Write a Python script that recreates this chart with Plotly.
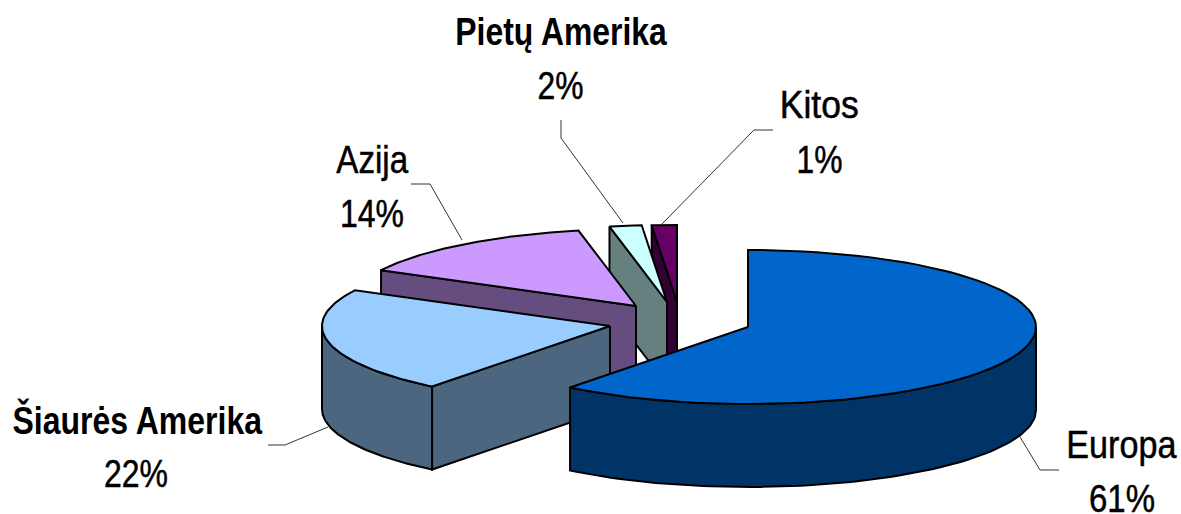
import json
import numpy as np
import plotly.graph_objects as go

categories = ["Europa", "Šiaurės Amerika", "Azija", "Pietų Amerika", "Kitos"]
values = [60.6, 22.1, 14.1, 1.8, 1.4]
percent_labels = ["61%", "22%", "14%", "2%", "1%"]
top_colors = ["#0066CC", "#99CCFF", "#CC99FF", "#CCFFFF", "#660066"]
side_colors = ["#003366", "#4D6680", "#664D80", "#668080", "#330033"]

# pie layout: apex of each exploded slice on the page, ellipse radii and extrusion depth
apex_x = [748, 610, 636, 667, 677]
apex_y = [327, 326, 306, 302, 302]
RX, RY, DEPTH = 288, 77, 83

name_pos = [(1121.5, 445), (137, 420), (372, 160), (561, 32), (818.5, 105)]
pct_pos = [(1122, 499), (136, 474), (372, 214), (560, 86), (819, 160)]
bold_names = [False, True, False, True, False]
name_widths = [111, 250, 72, 212, 79]
pct_widths = [66, 64, 64, 46, 46]
leader_x = [[1020, 1040, 1059], [328, 285, 268], [462, 430, 411], [623, 561, 561], [662, 754, 773]]
leader_y = [[437, 470, 470], [427, 445, 445], [240, 184, 184], [223, 138, 120], [224, 130, 130]]

FONT = "Liberation Sans, Arial, sans-serif"

fig = go.Figure()


def poly(xs, ys, fill):
    fig.add_trace(go.Scatter(
        x=list(xs), y=list(ys), mode="lines", fill="toself", fillcolor=fill,
        line=dict(color="#000000", width=2), hoverinfo="skip", showlegend=False))


def rim(cx, cy, a0, a1, n=80):
    t = np.radians(np.linspace(a0, a1, n))
    return cx + RX * np.sin(t), cy - RY * np.cos(t)


# angular extent of every slice, clockwise from 12 o'clock
ends = np.cumsum(values) / np.sum(values) * 360
starts = np.concatenate([[0], ends[:-1]])

# painter's order: back slices first, Europa last
for i in range(len(values) - 1, -1, -1):
    cx, cy = apex_x[i], apex_y[i]
    a0, a1 = float(starts[i]), float(ends[i])
    if i > 0:
        rx0, ry0 = rim(cx, cy, a0, a0, 1)
        poly([cx, rx0[0], rx0[0], cx, cx],
             [cy, ry0[0], ry0[0] + DEPTH, cy + DEPTH, cy], side_colors[i])
    lo, hi = max(a0, 90.0), min(a1, 270.0)
    if hi > lo:
        wx, wy = rim(cx, cy, lo, hi)
        poly(np.concatenate([wx, wx[::-1], wx[:1]]),
             np.concatenate([wy, wy[::-1] + DEPTH, wy[:1]]), side_colors[i])
    tx, ty = rim(cx, cy, a0, a1)
    poly(np.concatenate([[cx], tx, [cx]]), np.concatenate([[cy], ty, [cy]]), top_colors[i])

# leader lines
for lx, ly in zip(leader_x, leader_y):
    fig.add_trace(go.Scatter(x=lx, y=ly, mode="lines", line=dict(color="#333333", width=1),
                             hoverinfo="skip", showlegend=False))

annotations = []
widths = []
for i, cat in enumerate(categories):
    annotations.append(dict(
        x=name_pos[i][0], y=name_pos[i][1], text=f"<b>{cat}</b>" if bold_names[i] else cat,
        showarrow=False, xanchor="center", yanchor="middle",
        font=dict(family=FONT, size=38, color="#000000")))
    widths.append(name_widths[i])
    annotations.append(dict(
        x=pct_pos[i][0], y=pct_pos[i][1], text=percent_labels[i],
        showarrow=False, xanchor="center", yanchor="middle",
        font=dict(family=FONT, size=38, color="#000000")))
    widths.append(pct_widths[i])

fig.update_layout(
    width=1181, height=514, margin=dict(l=0, r=0, t=0, b=0),
    paper_bgcolor="#FFFFFF", plot_bgcolor="#FFFFFF", showlegend=False,
    xaxis=dict(range=[0, 1181], visible=False, fixedrange=True),
    yaxis=dict(range=[514, 0], visible=False, fixedrange=True),
    annotations=annotations,
)

# condense the labels horizontally, as in the reference's narrow type
post = """
document.body.style.margin='0';document.body.style.overflow='hidden';
var gd=document.getElementById('{plot_id}');
var W=%s;
function condense(){
  var ts=gd.querySelectorAll('.annotation-text');
  ts.forEach(function(t,i){
    var b=t.getBBox(); if(!b.width) return;
    var c=b.x+b.width/2, s=W[i]/b.width;
    t.setAttribute('transform','translate('+c+' 0) scale('+s+' 1) translate('+(-c)+' 0)');
    if(!t.querySelector('tspan[style*="bold"]')){t.style.stroke='#000';t.style.strokeWidth='0.5px';}
  });
}
condense();gd.on('plotly_afterplot',condense);setTimeout(condense,50);
""" % json.dumps(widths)

fig.write_html("out.html", config={"displayModeBar": False}, post_script=post)
